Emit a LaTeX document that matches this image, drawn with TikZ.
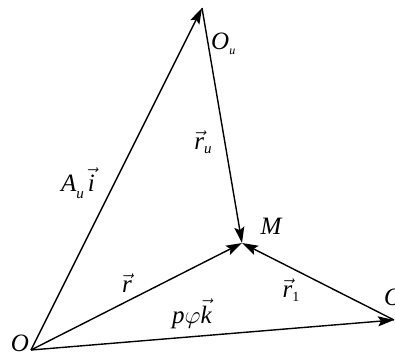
\documentclass[tikz,border=0pt]{standalone}
\usepackage{amsmath}
\usepackage{fontspec}
\setmainfont{Liberation Serif}
\usetikzlibrary{arrows.meta}
\newcommand{\vt}[1]{\ensuremath{\vec{\text{\itshape #1}}}}
\begin{document}
\begin{tikzpicture}[x=1pt,y=-1pt,
  vec/.style={line width=1.4pt,-{Stealth[length=16pt,width=10pt,inset=3pt]}},
  lbl/.style={inner sep=0pt,font=\fontsize{25}{25}\selectfont\itshape}]
\useasboundingbox (0,0) rectangle (395,358);
\coordinate (O) at (31,350);
\coordinate (Ou) at (202,8);
\coordinate (M) at (242,243);
\coordinate (O1) at (394,320);
\draw[vec] (O) -- (Ou);
\draw[vec] (Ou) -- (M);
\draw[vec] (O) -- (M);
\draw[vec] (O1) -- (M);
\draw[vec] (O) -- (O1);
\node[lbl] (lO) at (20,343) {O};
\node[lbl,anchor=west] (lOu) at (211,44) {O\raisebox{-0.4ex}{\fontsize{12}{12}\selectfont u}};
\node[lbl] (lru) at (203,142) {\vt{r}\raisebox{-0.3ex}{\fontsize{15}{15}\selectfont\itshape u}};
\node[lbl] (lA) at (78,183) {A\raisebox{-0.6ex}{\fontsize{15}{15}\selectfont\itshape u}\,\vt{i}};
\node[lbl] (lM) at (271,226) {M};
\node[lbl] (lr) at (127,283) {\vt{r}};
\node[lbl] (lr1) at (291,290) {\vt{r}\raisebox{-0.4ex}{\fontsize{14}{14}\selectfont\upshape 1}};
\node[lbl,anchor=west] (lo1) at (384,297) {O};
\node[lbl] (lpk) at (192,314) {p\ensuremath{\varphi}\vt{k}};
\end{tikzpicture}
\end{document}
